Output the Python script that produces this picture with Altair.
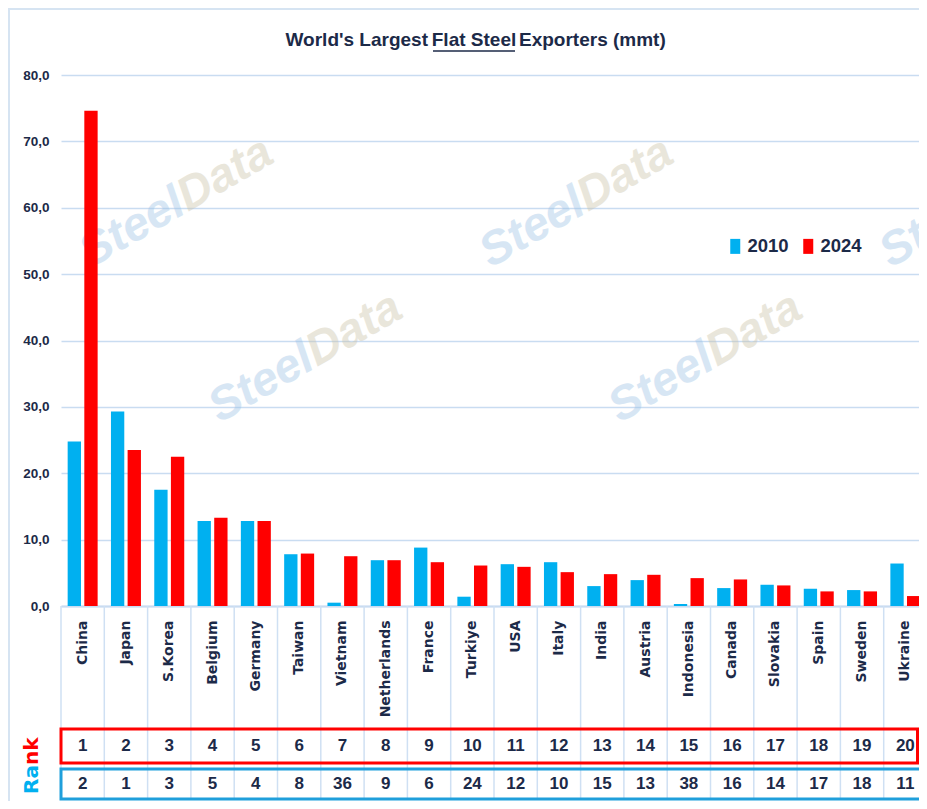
import altair as alt
import pandas as pd

# ---------------- data ----------------
countries = ["China", "Japan", "S.Korea", "Belgium", "Germany", "Taiwan", "Vietnam",
             "Netherlands", "France", "Turkiye", "USA", "Italy", "India", "Austria",
             "Indonesia", "Canada", "Slovakia", "Spain", "Sweden", "Ukraine"]
exports_2010 = [24.8, 29.3, 17.5, 12.8, 12.8, 7.8, 0.5, 6.9, 8.8, 1.4,
                6.3, 6.6, 3.0, 3.9, 0.3, 2.7, 3.2, 2.6, 2.4, 6.4]
exports_2024 = [74.6, 23.5, 22.5, 13.3, 12.8, 7.9, 7.5, 6.9, 6.6, 6.1,
                5.9, 5.1, 4.8, 4.7, 4.2, 4.0, 3.1, 2.2, 2.2, 1.5]
rank_2024 = [1, 2, 3, 4, 5, 6, 7, 8, 9, 10, 11, 12, 13, 14, 15, 16, 17, 18, 19, 20]
rank_2010 = [2, 1, 3, 5, 4, 8, 36, 9, 6, 24, 12, 10, 15, 13, 38, 16, 14, 17, 18, 11]
years = ["2010", "2024"]
year_colors = ["#00b0f0", "#ff0000"]
y_ticks = [0, 10, 20, 30, 40, 50, 60, 70, 80]

# ---------------- style ----------------
NAVY = "#1c2a48"
GRID = "#c9dcf1"
NARROW = "Liberation Sans, Arial, sans-serif"
WIDE = "DejaVu Sans, Verdana, sans-serif"
PLOT_W, PLOT_H = 866, 531

df = pd.DataFrame({
    "country": countries * 2,
    "year": [years[0]] * len(countries) + [years[1]] * len(countries),
    "value": exports_2010 + exports_2024,
})
rank_df = pd.DataFrame({"country": countries, "r2024": rank_2024, "r2010": rank_2010})
one = pd.DataFrame({"a": [0]})

xsort = countries

bars = alt.Chart(df).mark_bar().encode(
    x=alt.X("country:N", sort=xsort,
            scale=alt.Scale(paddingInner=0, paddingOuter=0),
            axis=alt.Axis(title=None, labelAngle=-90, labelFont=WIDE, labelFontSize=14,
                          labelFontWeight="bold", labelColor=NAVY, labelPadding=14,
                          ticks=False, domainColor=GRID, domainWidth=2, grid=False)),
    xOffset=alt.XOffset("year:N", scale=alt.Scale(paddingInner=0.2, paddingOuter=0.4)),
    y=alt.Y("value:Q", scale=alt.Scale(domain=[0, 80], nice=False),
            axis=alt.Axis(title=None, values=y_ticks, domain=False, ticks=False,
                          labelExpr="replace(format(datum.value, '.1f'), '.', ',')",
                          labelFont=NARROW, labelFontSize=13.5, labelFontWeight="bold",
                          labelColor=NAVY, labelPadding=12,
                          grid=True, gridColor=GRID, gridWidth=1.6)),
    color=alt.Color("year:N", scale=alt.Scale(domain=years, range=year_colors),
                    legend=alt.Legend(title=None, orient="none", legendX=665, legendY=162,
                                      direction="horizontal", padding=0,
                                      symbolType="M-0.667,-1L0.667,-1L0.667,1L-0.667,1Z",
                                      symbolSize=225, symbolStrokeWidth=0, symbolOpacity=1,
                                      labelFont=NARROW, labelFontSize=18.5, labelFontWeight="bold",
                                      labelColor=NAVY, labelOffset=3, columnPadding=10)),
)

# watermarks (decoration)
wm_anchors = [(127, 137), (256, 292), (527, 137), (656, 292), (927, 137)]
wm_layers = []
for ax, ay in wm_anchors:
    wm_layers.append(alt.Chart(one).mark_text(
        text="Steel", font="Liberation Sans, Arial, sans-serif", fontSize=47, fontWeight="bold",
        fontStyle="italic", angle=330, align="right", baseline="alphabetic",
        color="#9cc3e6", opacity=0.4).encode(x=alt.value(ax), y=alt.value(ay)))
    wm_layers.append(alt.Chart(one).mark_text(
        text="Data", font="Liberation Sans, Arial, sans-serif", fontSize=47, fontWeight="bold",
        fontStyle="italic", angle=330, align="left", baseline="alphabetic",
        color="#c9c3a8", opacity=0.4).encode(x=alt.value(ax), y=alt.value(ay)))

separators = alt.Chart(pd.DataFrame({"country": countries})).mark_rule(
    color="#cfe0f3", strokeWidth=1.5).encode(
    x=alt.X("country:N", sort=xsort, bandPosition=0),
    y=alt.value(531), y2=alt.value(724))

red_box = alt.Chart(one).mark_rect(fillOpacity=0, stroke="#ff0000", strokeWidth=3).encode(
    x=alt.value(0), x2=alt.value(856.5), y=alt.value(654), y2=alt.value(688))
blue_box = alt.Chart(one).mark_rect(fillOpacity=0, stroke="#1f9fdb", strokeWidth=3).encode(
    x=alt.value(0), x2=alt.value(900), y=alt.value(694), y2=alt.value(724))

rank_a = alt.Chart(rank_df).mark_text(font=NARROW, fontSize=17, fontWeight="bold", color=NAVY).encode(
    x=alt.X("country:N", sort=xsort), y=alt.value(671), text="r2024:N")
rank_b = alt.Chart(rank_df).mark_text(font=NARROW, fontSize=17, fontWeight="bold", color=NAVY).encode(
    x=alt.X("country:N", sort=xsort), y=alt.value(709), text="r2010:N")

rank_lbl1 = alt.Chart(one).mark_text(text="Ra", font=WIDE, fontSize=20, fontWeight="bold",
                                     color="#00b0f0", angle=270, align="right", baseline="middle").encode(
    x=alt.value(-29), y=alt.value(690))
rank_lbl2 = alt.Chart(one).mark_text(text="nk", font=WIDE, fontSize=20, fontWeight="bold",
                                     color="#ff0000", angle=270, align="left", baseline="middle").encode(
    x=alt.value(-29), y=alt.value(690))

t1 = alt.Chart(one).mark_text(text="World's Largest", font=NARROW, fontSize=19, fontWeight="bold",
                              color=NAVY, align="right", baseline="middle").encode(
    x=alt.value(367), y=alt.value(-35))
t2 = alt.Chart(one).mark_text(text="Flat Steel", font=NARROW, fontSize=19, fontWeight="bold",
                              color=NAVY, align="center", baseline="middle").encode(
    x=alt.value(413), y=alt.value(-35))
t3 = alt.Chart(one).mark_text(text="Exporters (mmt)", font=NARROW, fontSize=19, fontWeight="bold",
                              color=NAVY, align="left", baseline="middle").encode(
    x=alt.value(458), y=alt.value(-35))
underline = alt.Chart(one).mark_rule(color=NAVY, strokeWidth=1.5).encode(
    x=alt.value(372), x2=alt.value(454), y=alt.value(-24))

border_top = alt.Chart(one).mark_rule(color="#d6e4f2", strokeWidth=2).encode(
    x=alt.value(-53), x2=alt.value(870), y=alt.value(-66))
border_left = alt.Chart(one).mark_rule(color="#d6e4f2", strokeWidth=2).encode(
    x=alt.value(-52), y=alt.value(-67), y2=alt.value(726))

chart = alt.layer(
    *wm_layers, bars, separators, red_box, blue_box, rank_a, rank_b,
    rank_lbl1, rank_lbl2, t1, t2, t3, underline, border_top, border_left
).properties(
    width=PLOT_W, height=PLOT_H,
    autosize=alt.AutoSizeParams(type="none"),
    padding={"left": 53, "top": 67, "right": -8, "bottom": 195},
    background="white",
).configure_view(stroke=None)

chart.save("out.html", embed_options={"renderer": "svg", "actions": False})
